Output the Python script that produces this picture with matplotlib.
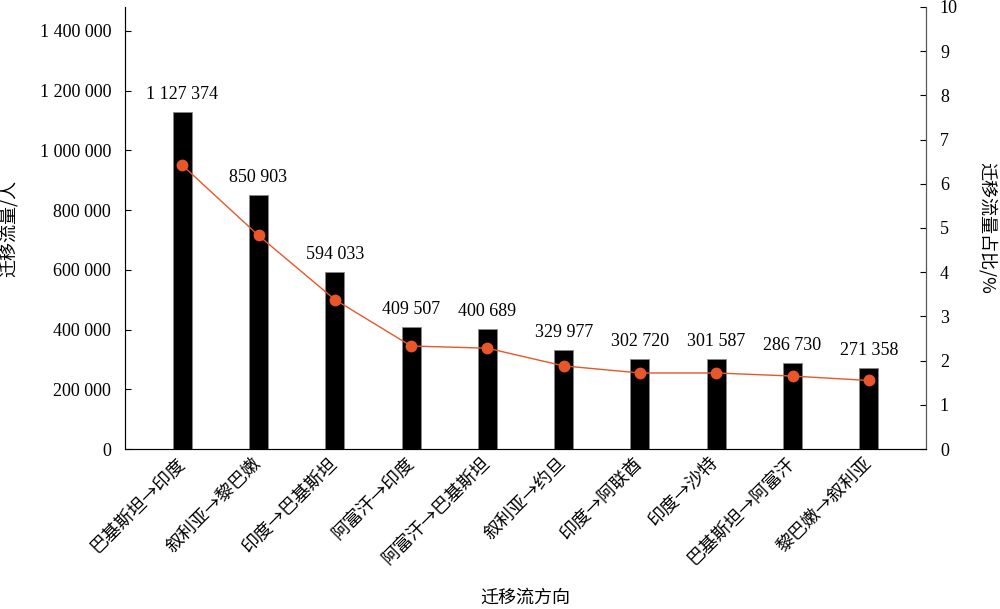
import numpy as np
import matplotlib
matplotlib.use('Agg')
import matplotlib.pyplot as plt
from matplotlib.ticker import FuncFormatter

plt.rcParams['font.family'] = ['Liberation Serif', 'Noto Sans CJK SC']

# data
flows = ['巴基斯坦→印度', '叙利亚→黎巴嫩', '印度→巴基斯坦', '阿富汗→印度', '阿富汗→巴基斯坦',
         '叙利亚→约旦', '印度→阿联酋', '印度→沙特', '巴基斯坦→阿富汗', '黎巴嫩→叙利亚']
counts = [1127374, 850903, 594033, 409507, 400689, 329977, 302720, 301587, 286730, 271358]
shares = [6.42, 4.83, 3.38, 2.33, 2.28, 1.88, 1.72, 1.72, 1.65, 1.55]

def spaced(v, pos=None):
    return f'{int(v):,}'.replace(',', ' ')

fig = plt.figure(figsize=(10, 6.09), dpi=100)
ax = fig.add_axes([0.125, 0.2627, 0.801, 0.726])
x = np.arange(len(flows))

ax.bar(x, counts, width=0.25, color='black', edgecolor='#888888', linewidth=0.6, zorder=2)
for xi, c in zip(x, counts):
    ax.text(xi, c + 30000, spaced(c), ha='center', va='bottom', fontsize=13)

ax.set_xlim(-0.75, 9.75)
ax.set_ylim(0, 1480000)
ax.set_yticks(np.arange(0, 1400001, 200000))
ax.yaxis.set_major_formatter(FuncFormatter(spaced))
ax.tick_params(axis='y', direction='in', length=4, labelsize=13, pad=10)
ax.tick_params(axis='x', length=0, pad=8)
ax.set_xticks(x)
ax.set_xticklabels(flows, rotation=45, ha='right', va='center', rotation_mode='anchor',
                   fontsize=13, family=['Noto Sans CJK SC'])
ax.spines['top'].set_visible(False)
for s in ['left', 'bottom', 'right']:
    ax.spines[s].set_color('#555555')
ax.set_ylabel('迁移流量/人', fontsize=13, family=['Noto Sans CJK SC'], labelpad=16)
ax.set_xlabel('迁移流方向', fontsize=13, family=['Noto Sans CJK SC'], labelpad=15)

ax2 = ax.twinx()
ax2.plot(x, shares, color='#E8562A', lw=1.0, marker='o', markersize=7.5, zorder=3)
ax2.set_ylim(0, 10)
ax2.set_yticks(range(0, 11))
ax2.tick_params(axis='y', direction='in', length=4, labelsize=13, pad=10)
ax2.spines['top'].set_visible(False)
ax2.spines['right'].set_color('#555555')
ax2.set_ylabel('迁移流量占比/%', fontsize=13, family=['Noto Sans CJK SC'], rotation=270,
               labelpad=28)

fig.savefig('out.png', dpi=100)
